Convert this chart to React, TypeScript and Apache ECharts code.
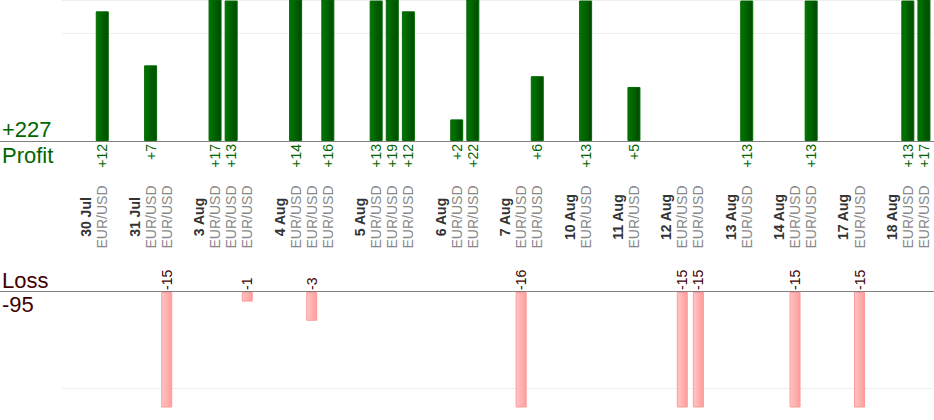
import React, { useEffect, useRef } from 'react';
import * as echarts from 'echarts';

// ---- data ----
const dates = ['30 Jul', '31 Jul', '3 Aug', '4 Aug', '5 Aug', '6 Aug', '7 Aug', '10 Aug', '11 Aug', '12 Aug', '13 Aug', '14 Aug', '17 Aug', '18 Aug'];
const tradeSymbol = 'EUR/USD';
const tradeResults: number[][] = [
  [12],
  [7, -15],
  [17, 13, -1],
  [14, -3, 16],
  [13, 19, 12],
  [2, 22],
  [-16, 6],
  [13],
  [5],
  [-15, -15],
  [13],
  [-15, 13],
  [-15],
  [13, 17],
];
const lossGridValues = [-10];

type Slot = { label: string; kind: 'gap' | 'date' | 'trade'; value?: number };
const slots: Slot[] = [];
dates.forEach((d, i) => {
  slots.push({ label: '', kind: 'gap' });
  slots.push({ label: d, kind: 'date' });
  tradeResults[i].forEach((v) => slots.push({ label: tradeSymbol, kind: 'trade', value: v }));
});
const categories = slots.map((s) => s.label);
const profitData = slots.map((s) => (s.kind === 'trade' && (s.value as number) > 0 ? s.value : '-'));
const lossData = slots.map((s) => (s.kind === 'trade' && (s.value as number) < 0 ? s.value : '-'));
const totalProfit = tradeResults.flat().filter((v) => v > 0).reduce((a, b) => a + b, 0);
const totalLoss = tradeResults.flat().filter((v) => v < 0).reduce((a, b) => a + b, 0);

const FONT = '"Liberation Sans", Arial, Helvetica, sans-serif';
const PROFIT_TOP = 0;
const PROFIT_H = 141;
const LOSS_TOP = 292;
const LOSS_H = 115;
const GREEN = '#006600';
const DARK_RED = '#400000';

export default function App() {
  const ref = useRef<HTMLDivElement>(null);
  useEffect(() => {
    document.body.style.margin = '0';
    if (!ref.current) return;
    const chart = echarts.init(ref.current, null, { renderer: 'svg' });
    const greenGrad = new echarts.graphic.LinearGradient(0, 0, 1, 0, [
      { offset: 0, color: '#007800' },
      { offset: 1, color: '#004a00' },
    ]);
    const pinkGrad = new echarts.graphic.LinearGradient(0, 0, 1, 0, [
      { offset: 0, color: '#ffc6c6' },
      { offset: 1, color: '#ff9c9c' },
    ]);
    const option: any = {
      animation: false,
      textStyle: { fontFamily: FONT },
      grid: [
        { left: 62, right: 2, top: PROFIT_TOP, height: PROFIT_H },
        { left: 62, right: 2, top: LOSS_TOP, height: LOSS_H },
      ],
      xAxis: [
        {
          type: 'category',
          gridIndex: 0,
          data: categories,
          boundaryGap: true,
          axisLine: { show: false },
          axisTick: { show: false },
          splitLine: { show: false },
          axisLabel: {
            interval: 0,
            rotate: 90,
            margin: 76,
            align: 'center',
            verticalAlign: 'middle',
            fontFamily: FONT,
            fontSize: 14,
            formatter: (v: string, i: number) => (slots[i].kind === 'date' ? `{d|${v}}` : `{t|${v}}`),
            rich: {
              d: { fontWeight: 'bold', color: '#333333', fontSize: 14, fontFamily: FONT },
              t: { color: '#888888', fontSize: 14, fontFamily: FONT },
            },
          },
        },
        { type: 'category', gridIndex: 1, data: categories, boundaryGap: true, show: false },
      ],
      yAxis: [
        {
          type: 'value',
          gridIndex: 0,
          min: 0,
          max: 13.05,
          interval: 10,
          axisLabel: { show: false },
          axisLine: { show: false },
          axisTick: { show: false },
          splitLine: { show: true, lineStyle: { color: '#eeeeee', width: 1 } },
        },
        {
          type: 'value',
          gridIndex: 1,
          min: -12,
          max: 0,
          axisLabel: { show: false },
          axisLine: { show: false },
          axisTick: { show: false },
          splitLine: { show: false },
        },
      ],
      series: [
        {
          type: 'line',
          xAxisIndex: 1,
          yAxisIndex: 1,
          data: [],
          z: 1,
          silent: true,
          markLine: {
            z: 1,
            silent: true,
            symbol: 'none',
            label: { show: false },
            lineStyle: { color: '#eeeeee', type: 'solid', width: 1 },
            data: lossGridValues.map((v) => ({ yAxis: v })),
          },
        },
        {
          type: 'bar',
          name: 'Profit',
          xAxisIndex: 0,
          yAxisIndex: 0,
          data: profitData,
          barWidth: 13,
          clip: true,
          z: 3,
          itemStyle: { color: greenGrad, borderColor: '#006a00', borderWidth: 1 },
          label: {
            show: true,
            position: 'bottom',
            distance: 3,
            rotate: 90,
            align: 'right',
            verticalAlign: 'middle',
            color: GREEN,
            fontSize: 14,
            fontFamily: FONT,
            formatter: (p: any) => '+' + p.value,
          },
        },
        {
          type: 'bar',
          name: 'Loss',
          xAxisIndex: 1,
          yAxisIndex: 1,
          data: lossData,
          barWidth: 11,
          clip: true,
          z: 3,
          itemStyle: { color: pinkGrad, borderColor: '#ff9a9a', borderWidth: 1 },
          label: {
            show: true,
            position: 'top',
            distance: 2,
            rotate: 90,
            align: 'left',
            verticalAlign: 'middle',
            color: DARK_RED,
            fontSize: 14,
            fontFamily: FONT,
            formatter: (p: any) => String(p.value),
          },
        },
      ],
      graphic: [
        {
          type: 'line',
          z: 50,
          shape: { x1: 0, y1: PROFIT_TOP + PROFIT_H + 0.5, x2: 934, y2: PROFIT_TOP + PROFIT_H + 0.5 },
          style: { stroke: '#808080', lineWidth: 1 },
        },
        {
          type: 'line',
          z: 50,
          shape: { x1: 0, y1: LOSS_TOP - 0.5, x2: 934, y2: LOSS_TOP - 0.5 },
          style: { stroke: '#808080', lineWidth: 1 },
        },
        {
          type: 'text',
          x: 2,
          y: 129,
          style: { text: '+' + totalProfit, fill: GREEN, fontSize: 22, fontFamily: FONT, align: 'left', verticalAlign: 'middle' },
        },
        {
          type: 'text',
          x: 2,
          y: 155,
          style: { text: 'Profit', fill: GREEN, fontSize: 22, fontFamily: FONT, align: 'left', verticalAlign: 'middle' },
        },
        {
          type: 'text',
          x: 2,
          y: 280,
          style: { text: 'Loss', fill: DARK_RED, fontSize: 22, fontFamily: FONT, align: 'left', verticalAlign: 'middle' },
        },
        {
          type: 'text',
          x: 2,
          y: 304,
          style: { text: String(totalLoss), fill: DARK_RED, fontSize: 22, fontFamily: FONT, align: 'left', verticalAlign: 'middle' },
        },
      ],
    };
    chart.setOption(option);
    return () => chart.dispose();
  }, []);
  return <div ref={ref} style={{ position: 'absolute', left: 0, top: 0, width: 934, height: 420 }} />;
}
